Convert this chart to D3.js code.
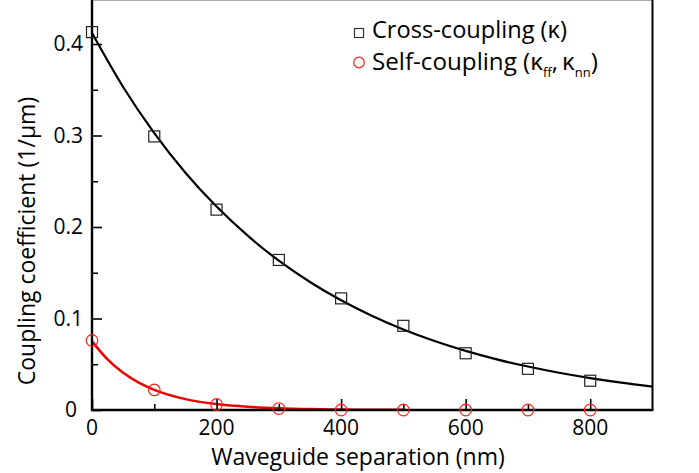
<!DOCTYPE html>
<html>
<head>
<meta charset="utf-8">
<script src="https://cdn.jsdelivr.net/npm/d3@7"></script>
<style>
  html, body { margin: 0; padding: 0; background: #fff; }
  svg { display: block; font-family: "Open Sans", "Noto Sans", sans-serif; }
</style>
</head>
<body>
<svg id="chart" width="699" height="473"></svg>
<script>
// ---- Data ----
const separation = [0, 100, 200, 300, 400, 500, 600, 700, 800];
const crossCoupling = [0.413, 0.299, 0.219, 0.164, 0.122, 0.092, 0.062, 0.045, 0.032];
const selfCoupling = [0.076, 0.022, 0.006, 0.0016, 0, 0, 0, 0, 0];

// fitted curves as drawn in the reference
const fitCrossX = [0, 50, 100, 150, 200, 250, 300, 350, 400, 450, 500, 550, 600, 650, 700, 750, 800, 850, 900];
const fitCrossY = [0.412, 0.353, 0.3026, 0.2593, 0.2223, 0.1905, 0.1632, 0.1399, 0.1199, 0.1027, 0.088, 0.0754, 0.0646, 0.0554, 0.0475, 0.0407, 0.0349, 0.0299, 0.0256];
const fitSelfX = [0, 25, 50, 75, 100, 150, 200, 250, 300, 350, 400, 450, 500];
const fitSelfY = [0.075, 0.0552, 0.0406, 0.0299, 0.022, 0.0119, 0.0065, 0.0035, 0.0019, 0.001, 0.00055, 0.0003, 0.00016];

const xTicksMajor = [0, 200, 400, 600, 800];
const xTicksMinor = [100, 300, 500, 700];
const yTicksMajor = [0, 0.1, 0.2, 0.3, 0.4];
const yTicksMinor = [0.05, 0.15, 0.25, 0.35];

const xTitle = "Waveguide separation (nm)";
const yTitle = "Coupling coefficient (1/\u03BCm)";

(function () {
// ---- Layout ----
const svg = d3.select("#chart");
const mLeft = 92, mRight = 652.5, mBottom = 410;

const x = d3.scaleLinear().domain([0, 900]).range([mLeft, mRight]);
const y = d3.scaleLinear().domain([0, 0.4]).range([mBottom, 44]);

// top border (light grey) and right border
svg.append("line").attr("x1", mLeft).attr("x2", mRight).attr("y1", 0.5).attr("y2", 0.5)
  .attr("stroke", "#aaa").attr("stroke-width", 1);
svg.append("line").attr("x1", mRight).attr("x2", mRight).attr("y1", 0).attr("y2", mBottom)
  .attr("stroke", "#000").attr("stroke-width", 2);

// fitted curves
const lineGen = d3.line().x(d => x(d[0])).y(d => y(d[1])).curve(d3.curveMonotoneX);
svg.append("path")
  .datum(fitCrossX.map((v, i) => [v, fitCrossY[i]]))
  .attr("d", lineGen).attr("fill", "none").attr("stroke", "#000").attr("stroke-width", 2.2);
svg.append("path")
  .datum(fitSelfX.map((v, i) => [v, fitSelfY[i]]))
  .attr("d", lineGen).attr("fill", "none").attr("stroke", "#ee0000").attr("stroke-width", 2.5);

// axes
const yAxis = d3.axisRight(y).tickValues(yTicksMajor).tickSize(10).tickFormat("");
const yAxisMinor = d3.axisRight(y).tickValues(yTicksMinor).tickSize(6).tickFormat("");
const xAxis = d3.axisTop(x).tickValues(xTicksMajor).tickSize(11).tickFormat("");
const xAxisMinor = d3.axisTop(x).tickValues(xTicksMinor).tickSize(6).tickFormat("");

function styleAxis(g) {
  g.select(".domain").remove();
  g.selectAll(".tick line").attr("stroke", "#000").attr("stroke-width", 1.6);
}
svg.append("g").attr("transform", `translate(${mLeft},0)`).call(yAxis).call(styleAxis);
svg.append("g").attr("transform", `translate(${mLeft},0)`).call(yAxisMinor).call(styleAxis);
svg.append("g").attr("transform", `translate(0,${mBottom})`).call(xAxis).call(styleAxis);
svg.append("g").attr("transform", `translate(0,${mBottom})`).call(xAxisMinor).call(styleAxis);

// axis lines
svg.append("line").attr("x1", mLeft).attr("x2", mLeft).attr("y1", 0).attr("y2", mBottom + 1)
  .attr("stroke", "#000").attr("stroke-width", 2.4);
svg.append("line").attr("x1", mLeft - 1).attr("x2", mRight + 1).attr("y1", mBottom).attr("y2", mBottom)
  .attr("stroke", "#000").attr("stroke-width", 2.4);

// tick labels
svg.append("g").selectAll("text").data(yTicksMajor).join("text")
  .attr("x", d => d === 0 ? 77 : 83).attr("y", d => y(d)).attr("dy", "0.35em")
  .attr("text-anchor", "end").attr("font-size", 21).attr("fill", "#000")
  .text(d => d === 0 ? "0" : d3.format(".1f")(d));
svg.append("g").selectAll("text").data(xTicksMajor).join("text")
  .attr("x", d => x(d)).attr("y", 435)
  .attr("text-anchor", "middle").attr("font-size", 21).attr("fill", "#000")
  .text(d => d);

// axis titles
svg.append("text").attr("x", 358).attr("y", 465).attr("text-anchor", "middle")
  .attr("font-size", 23).attr("fill", "#000").text(xTitle);
svg.append("text").attr("transform", "translate(35,241) rotate(-90)").attr("text-anchor", "middle")
  .attr("font-size", 23).attr("fill", "#000").text(yTitle);

// markers
svg.append("g").selectAll("rect").data(separation.map((s, i) => [s, crossCoupling[i]])).join("rect")
  .attr("x", d => x(d[0]) - 5.5).attr("y", d => y(d[1]) - 5.5)
  .attr("width", 11).attr("height", 11)
  .attr("fill", "none").attr("stroke", "#222").attr("stroke-width", 1.2);
svg.append("g").selectAll("circle").data(separation.map((s, i) => [s, selfCoupling[i]])).join("circle")
  .attr("cx", d => x(d[0])).attr("cy", d => y(d[1])).attr("r", 5.8)
  .attr("fill", "none").attr("stroke", "#ff2020").attr("stroke-width", 1.2);

// legend
const lg = svg.append("g");
lg.append("rect").attr("x", 354.5).attr("y", 28.5).attr("width", 9).attr("height", 9)
  .attr("fill", "none").attr("stroke", "#333").attr("stroke-width", 1.2);
lg.append("circle").attr("cx", 359).attr("cy", 62.5).attr("r", 5.3)
  .attr("fill", "none").attr("stroke", "#ff2020").attr("stroke-width", 1.2);
const t1 = lg.append("text").attr("x", 372).attr("y", 37.5).attr("font-size", 24).attr("fill", "#000")
  .text("Cross-coupling (\u03BA)");
const t2 = lg.append("text").attr("x", 372).attr("y", 70).attr("font-size", 24).attr("fill", "#000");
t2.append("tspan").text("Self-coupling (\u03BA");
t2.append("tspan").attr("font-size", 13).attr("dy", 7).text("ff");
t2.append("tspan").attr("dy", -7).text(",\u2009\u03BA");
t2.append("tspan").attr("font-size", 13).attr("dy", 7).text("nn");
t2.append("tspan").attr("dy", -7).text(")");

// fit the legend text widths to the reference (395-372 px spans)
function fitWidth(sel, target) {
  const w = sel.node().getComputedTextLength();
  if (w > 0) {
    const fs = 24 * target / w;
    sel.attr("font-size", Math.max(22, Math.min(27, fs)));
  }
}
fitWidth(t1, 195);
fitWidth(t2, 226);
})();
</script>
</body>
</html>
